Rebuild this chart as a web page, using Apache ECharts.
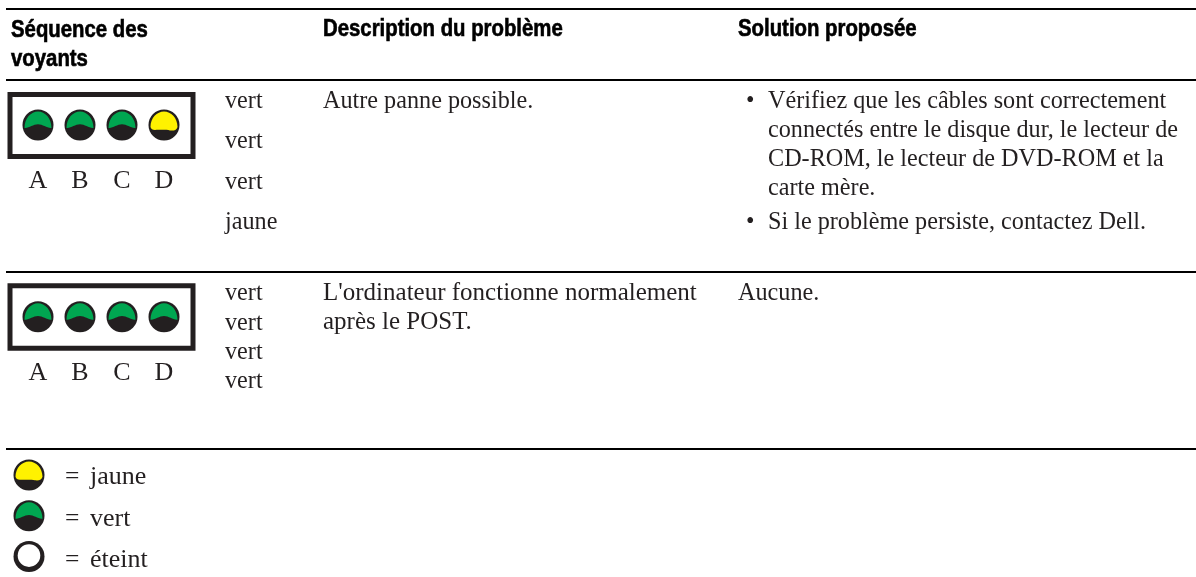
<!DOCTYPE html>
<html>
<head>
<meta charset="utf-8">
<style>html,body{margin:0;padding:0;background:#fff}#main{width:1196px;height:577px}</style>
<script src="https://cdn.jsdelivr.net/npm/echarts@6/dist/echarts.min.js"></script>
</head>
<body>
<div id="main"></div>
<script>
// table content
const headers = ['Séquence des\nvoyants', 'Description du problème', 'Solution proposée']
const ledNames = ['A', 'B', 'C', 'D']
const panel1 = ['vert', 'vert', 'vert', 'jaune']
const panel2 = ['vert', 'vert', 'vert', 'vert']
const problem1 = 'Autre panne possible.'
const problem2 = "L'ordinateur fonctionne normalement\naprès le POST."
const solution1 = ['Vérifiez que les câbles sont correctement', 'connectés entre le disque dur, le lecteur de', 'CD-ROM, le lecteur de DVD-ROM et la', 'carte mère.']
const solution1b = 'Si le problème persiste, contactez Dell.'
const solution2 = 'Aucune.'
const legendStates = ['jaune', 'vert', 'éteint']

const serif = '"Liberation Serif", serif'
const sans = '"Liberation Sans", sans-serif'
const ink = '#231f20'
const capColor = {vert: '#00a651', jaune: '#fff200'}
const capPath = {
  vert: 'M-13.5 2.5C-13.5 -7 -7 -13.5 0 -13.5C7 -13.5 13.5 -7 13.5 2.5C9 3 5 -1 0 -1C-5 -1 -9 3 -13.5 2.5Z',
  jaune: 'M-13.5 2C-13.5 -7 -7 -13.5 0 -13.5C7 -13.5 13.5 -7 13.5 2C13 5 10 6 6 5.5C2 4.5 -5 5 -9 5C-11.5 5 -13 4 -13.5 2Z'
}
const capBox = {
  vert: {x: -13.5, y: -13.5, width: 27, height: 16.5},
  jaune: {x: -13.5, y: -13.5, width: 27, height: 19}
}

// one led: dark disc and the coloured cap, or a white hole when off
const renderLed = (params, api) => {
  const p = api.coord([api.value(0), api.value(1)])
  const state = legendStates[api.value(2)]
  const children = [{type: 'circle', shape: {cx: 0, cy: 0, r: 15.5}, style: {fill: ink}}]
  if (capPath[state]) {
    children.push({
      type: 'path',
      shape: {pathData: capPath[state], layout: 'cover', ...capBox[state]},
      style: {fill: capColor[state]}
    })
  } else {
    children.push({type: 'circle', shape: {cx: 0, cy: -1, r: 11.3}, style: {fill: '#fff'}})
  }
  return {type: 'group', x: p[0], y: p[1], children}
}

const ledData = (states) => states.map((s, i) => [i, 0, legendStates.indexOf(s)])
const ledSeries = (idx, data) => ({
  type: 'custom', xAxisIndex: idx, yAxisIndex: idx, renderItem: renderLed, data,
  silent: true, animation: false, clip: false
})
const ledAxis = (idx, names) => ({
  type: 'category', gridIndex: idx, data: names,
  axisLine: {show: false}, axisTick: {show: false},
  axisLabel: {show: names.length > 1, margin: 28, fontFamily: serif, fontSize: 26, color: ink}
})
const hiddenAxis = (idx, names, inverse) => ({
  type: 'category', gridIndex: idx, data: names, inverse, show: false
})

const rule = (y) => ({type: 'line', shape: {x1: 6, y1: y, x2: 1196, y2: y}, style: {stroke: '#000', lineWidth: 2}})
const text = (x, y, t, o, extra) => Object.assign({
  type: 'text', x, y,
  style: Object.assign({text: t, fill: ink, font: '24.2px ' + serif, verticalAlign: 'middle', lineHeight: 28}, o || {})
}, extra || {})
const box = (y, h) => ({type: 'rect', shape: {x: 10, y, width: 183, height: h}, style: {fill: 'none', stroke: ink, lineWidth: 5}})
// no condensed face installed, so squeeze the bold one
const bold = {fill: '#000', font: 'bold 23px ' + sans, stroke: '#000', lineWidth: 0.6}
const narrow = {scaleX: 0.885}
const solutionGap = 28.8

const elements = [
  rule(9), rule(80), rule(272), rule(449),
  box(94.5, 62), box(285.8, 62.5),
  text(11, 45, headers[0], Object.assign({}, bold, {lineHeight: 29.5}), narrow),
  text(323, 30, headers[1], bold, narrow),
  text(738, 30, headers[2], bold, narrow),
  text(323, 102, problem1),
  text(323, 308, problem2, {font: '25px ' + serif, lineHeight: 29}),
  text(738, 294, solution2),
  text(746, 102, '•'), text(746, 223, '•'),
  text(768, 223, solution1b)
]
panel1.forEach((s, i) => elements.push(text(225, 101.5 + i * 40.5, s)))
panel2.forEach((s, i) => elements.push(text(225, 294 + i * 29.3, s)))
solution1.forEach((s, i) => elements.push(text(768, 102 + i * solutionGap, s)))
legendStates.forEach((s, i) => {
  elements.push(text(65, 477.5 + i * 41.5, '=', {font: '25.5px ' + serif}))
  elements.push(text(90, 477.5 + i * 41.5, s, {font: '26px ' + serif}))
})

const chart = echarts.init(document.getElementById('main'), null, {renderer: 'canvas'})
chart.setOption({
  animation: false,
  backgroundColor: '#fff',
  grid: [
    {left: 17, width: 168, top: 110, height: 30},
    {left: 17, width: 168, top: 301.7, height: 30},
    {left: 14, width: 30, top: 454.5, height: 124.5}
  ],
  xAxis: [ledAxis(0, ledNames), ledAxis(1, ledNames), ledAxis(2, ['legend'])],
  yAxis: [hiddenAxis(0, ['row']), hiddenAxis(1, ['row']), hiddenAxis(2, legendStates, true)],
  series: [
    ledSeries(0, ledData(panel1)),
    ledSeries(1, ledData(panel2)),
    ledSeries(2, legendStates.map((s, i) => [0, i, i]))
  ],
  graphic: {elements}
})
</script>
</body>
</html>
